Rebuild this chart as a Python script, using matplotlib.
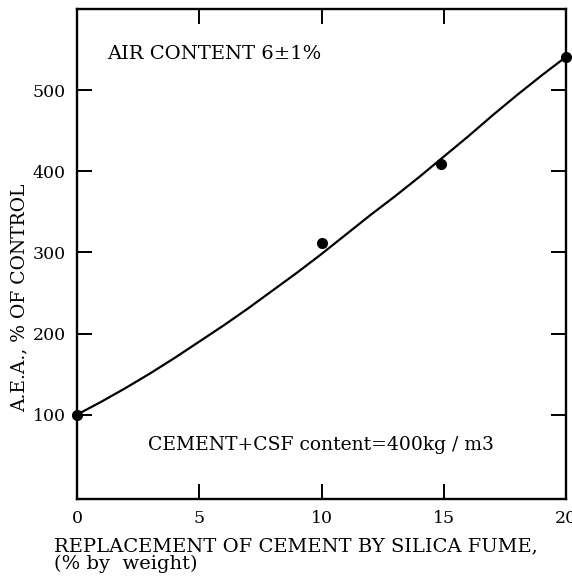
import matplotlib.pyplot as plt

# measured points (replacement %, A.E.A. % of control)
point_x = [0, 10, 14.9, 20]
point_y = [100, 312, 409, 541]

# smooth curve as drawn on the figure, read every 1 %
curve_x = [0, 1, 2, 3, 4, 5, 6, 7, 8, 9, 10,
           11, 12, 13, 14, 15, 16, 17, 18, 19, 20]
curve_y = [100, 116, 133, 151, 170, 190, 210, 231, 253, 275, 298,
           322, 346, 369, 393, 418, 443, 469, 494, 518, 541]

x_ticks = [0, 5, 10, 15, 20]
y_ticks = [100, 200, 300, 400, 500]

plt.rcParams['font.family'] = ['DejaVu Serif']

fig = plt.figure(figsize=(5.72, 5.83), dpi=100)
ax = fig.add_axes([77 / 572, 1 - 499 / 583, 489 / 572, 490 / 583])

ax.plot(curve_x, curve_y, color='black', linewidth=1.6, solid_capstyle='round')
ax.plot(point_x, point_y, 'o', color='black', markersize=7, clip_on=False)

ax.set_xlim(0, 20)
ax.set_ylim(-4, 600)
ax.set_xticks(x_ticks)
ax.set_yticks(y_ticks)
ax.tick_params(direction='in', length=11, width=1.4, labelsize=12.5,
               top=True, right=True, pad=8)
for side in ax.spines.values():
    side.set_linewidth(1.7)

ax.text(1.25, 544, 'AIR CONTENT 6±1%', fontsize=14, va='center')
ax.text(2.9, 62, 'CEMENT+CSF content=400kg / m3', fontsize=13.5, va='center')

ax.set_ylabel('A.E.A., % OF CONTROL', fontsize=13.5)
ax.yaxis.set_label_coords(-0.10, 0.41)

fig.text(54 / 572, 1 - 537 / 583,
         'REPLACEMENT OF CEMENT BY SILICA FUME,\n(% by  weight)',
         fontsize=14, ha='left', va='top', linespacing=0.95)

fig.savefig('out.png', dpi=100)
